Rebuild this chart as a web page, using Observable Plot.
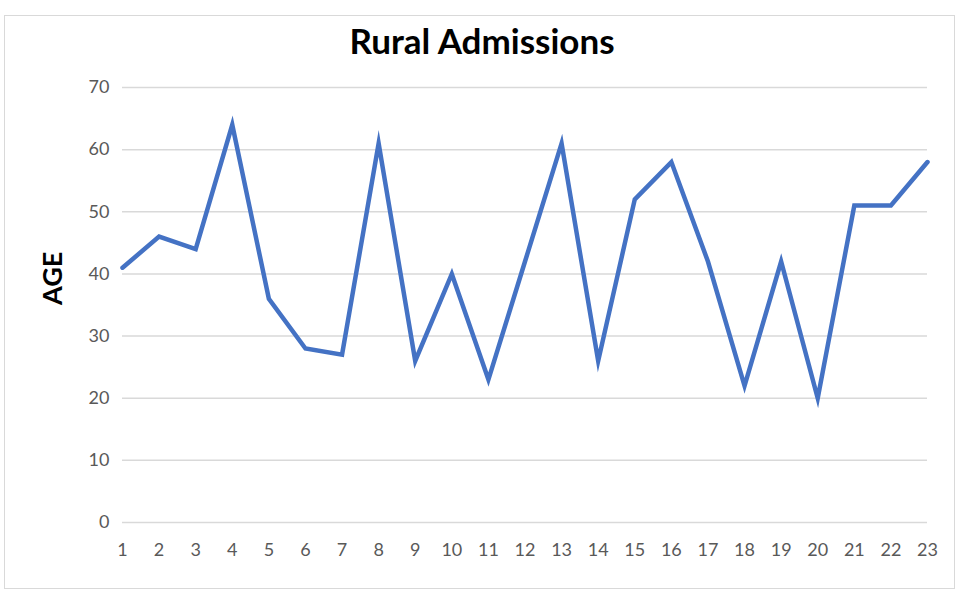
<!DOCTYPE html>
<html>
<head>
<meta charset="utf-8">
<script src="https://cdn.jsdelivr.net/npm/d3@7"></script>
<script src="https://cdn.jsdelivr.net/npm/@observablehq/plot@0.6"></script>
<style>
  html, body { margin: 0; padding: 0; background: #fff; }
  #wrap { position: relative; width: 964px; height: 592px; overflow: hidden; font-family: Lato, "Noto Sans", sans-serif; }
  #frame { position: absolute; left: 4px; top: 15px; width: 951px; height: 574px; border: 1px solid #d9d9d9; box-sizing: border-box; }
  #title { position: absolute; left: 0; top: 0; width: 964px; height: 70px; line-height: 80px; text-align: center; font-size: 35px; font-weight: bold; color: #000; }
  #chart { position: absolute; left: 0; top: 70px; }
</style>
</head>
<body>
<div id="wrap">
  <div id="frame"></div>
  <div id="title">Rural Admissions</div>
  <div id="chart"></div>
</div>
<script>
const categories = [1,2,3,4,5,6,7,8,9,10,11,12,13,14,15,16,17,18,19,20,21,22,23];
const ages = [41,46,44,64,36,28,27,61,26,40,23,42,61,26,52,58,42,22,42,20,51,51,58];
const yTicks = [0,10,20,30,40,50,60,70];
const yLabel = "AGE";

const data = categories.map((c, i) => ({x: c, age: ages[i]}));

const chart = Plot.plot({
  width: 964,
  height: 522,
  marginLeft: 122,
  marginRight: 37,
  marginTop: 17,
  marginBottom: 70,
  style: { fontFamily: "Lato, 'Noto Sans', sans-serif", background: "transparent", overflow: "visible" },
  x: { domain: [1, 23], ticks: categories, tickFormat: d => String(d) },
  y: { domain: [0, 70], ticks: yTicks },
  marks: [
    Plot.gridY(yTicks, { stroke: "#d9d9d9", strokeOpacity: 1, strokeWidth: 1.5 }),
    Plot.axisY(yTicks, { tickSize: 0, tickPadding: 13, fontSize: 18, fill: "#595959", label: null }),
    Plot.axisX(categories, { tickSize: 0, tickPadding: 21, fontSize: 18, fill: "#595959", label: null, anchor: "bottom" }),
    Plot.line(data, { x: "x", y: "age", stroke: "#4472C4", strokeWidth: 4.5, strokeLinejoin: "miter", strokeMiterlimit: 10 }),
    Plot.text([yLabel], { text: d => d, frameAnchor: "left", dx: -69, rotate: -90, fontSize: 27, fontWeight: "bold", fill: "#000" })
  ]
});
document.getElementById("chart").appendChild(chart);
</script>
</body>
</html>
